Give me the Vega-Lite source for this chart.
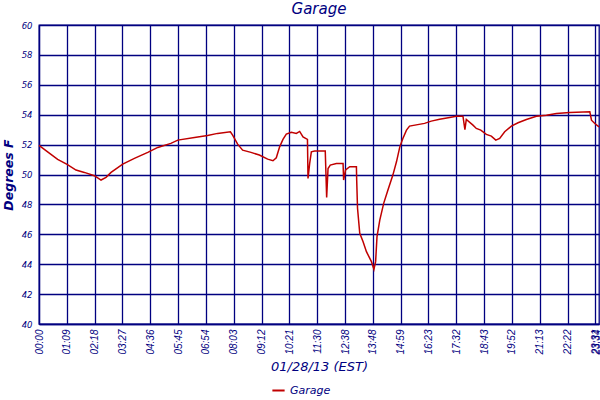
{
  "$schema": "https://vega.github.io/schema/vega-lite/v6.json",
  "width": 560,
  "height": 299,
  "autosize": {"type": "none"},
  "padding": {"left": 39, "top": 25, "right": 1, "bottom": 76},
  "background": "white",
  "title": {"text": "Garage", "font": "DejaVu Sans", "fontSize": 15, "fontStyle": "italic", "fontWeight": "normal", "color": "#000080", "anchor": "middle", "offset": 4},
  "config": {"view": {"stroke": "#000080", "strokeWidth": 1.3}},
  "data": {"values": [
    {"i": 0, "t": 51.95}, {"i": 3.1, "t": 51.52}, {"i": 6.7, "t": 51.01}, {"i": 10.1, "t": 50.68},
    {"i": 13.3, "t": 50.3}, {"i": 16.3, "t": 50.14}, {"i": 19.9, "t": 49.92}, {"i": 22.3, "t": 49.63},
    {"i": 24.1, "t": 49.81}, {"i": 25.9, "t": 50.14}, {"i": 30.1, "t": 50.7}, {"i": 34.3, "t": 51.08},
    {"i": 39.1, "t": 51.48}, {"i": 42.7, "t": 51.81}, {"i": 47.4, "t": 52.08}, {"i": 49.9, "t": 52.3},
    {"i": 55.9, "t": 52.48}, {"i": 60.6, "t": 52.61}, {"i": 64.2, "t": 52.75}, {"i": 68.8, "t": 52.86},
    {"i": 69.6, "t": 52.63}, {"i": 71.4, "t": 52.03}, {"i": 73.2, "t": 51.63}, {"i": 76.2, "t": 51.48},
    {"i": 79.2, "t": 51.3}, {"i": 82.2, "t": 51.03}, {"i": 84.1, "t": 50.92}, {"i": 85.3, "t": 51.12},
    {"i": 86.5, "t": 51.85}, {"i": 87.7, "t": 52.35}, {"i": 88.9, "t": 52.7}, {"i": 90.7, "t": 52.83},
    {"i": 92.5, "t": 52.75}, {"i": 93.7, "t": 52.88}, {"i": 94.9, "t": 52.52}, {"i": 96.5, "t": 52.35},
    {"i": 96.7, "t": 49.74}, {"i": 97.3, "t": 50.74}, {"i": 97.9, "t": 51.52}, {"i": 99.1, "t": 51.57},
    {"i": 102.9, "t": 51.57}, {"i": 103.4, "t": 48.47}, {"i": 103.9, "t": 50.4}, {"i": 104.7, "t": 50.63},
    {"i": 106.9, "t": 50.74}, {"i": 109.3, "t": 50.74}, {"i": 109.5, "t": 49.63}, {"i": 110.2, "t": 50.3},
    {"i": 111.7, "t": 50.52}, {"i": 114.1, "t": 50.52}, {"i": 114.2, "t": 49.63}, {"i": 114.5, "t": 47.74},
    {"i": 115.3, "t": 46.07}, {"i": 116.5, "t": 45.5}, {"i": 117.7, "t": 44.84}, {"i": 119.5, "t": 44.17},
    {"i": 120.4, "t": 43.66}, {"i": 121.0, "t": 44.17}, {"i": 121.5, "t": 45.84}, {"i": 122.5, "t": 46.95},
    {"i": 123.9, "t": 48.07}, {"i": 125.4, "t": 48.95}, {"i": 127.2, "t": 49.96}, {"i": 128.5, "t": 50.85},
    {"i": 129.7, "t": 51.85}, {"i": 130.8, "t": 52.41}, {"i": 132.1, "t": 52.97}, {"i": 133.2, "t": 53.24},
    {"i": 138.6, "t": 53.42}, {"i": 141.0, "t": 53.57}, {"i": 144.0, "t": 53.7}, {"i": 147.6, "t": 53.82},
    {"i": 150.0, "t": 53.9}, {"i": 152.4, "t": 53.9}, {"i": 153.1, "t": 53.0}, {"i": 153.6, "t": 53.68},
    {"i": 156.0, "t": 53.3}, {"i": 157.2, "t": 53.08}, {"i": 158.8, "t": 52.97}, {"i": 160.8, "t": 52.68},
    {"i": 162.6, "t": 52.57}, {"i": 164.2, "t": 52.3}, {"i": 165.6, "t": 52.41}, {"i": 167.4, "t": 52.86},
    {"i": 169.8, "t": 53.24}, {"i": 172.2, "t": 53.46}, {"i": 175.2, "t": 53.68}, {"i": 178.8, "t": 53.9},
    {"i": 182.4, "t": 53.97}, {"i": 186.0, "t": 54.08}, {"i": 190.8, "t": 54.15}, {"i": 198.0, "t": 54.19},
    {"i": 198.6, "t": 53.63}, {"i": 199.8, "t": 53.41}, {"i": 201.3, "t": 53.19}
  ]},
  "mark": {"type": "line", "strokeWidth": 1.5, "interpolate": "linear"},
  "encoding": {
    "x": {
      "field": "i", "type": "quantitative",
      "scale": {"domain": [0, 201.3], "nice": false, "zero": false},
      "axis": {
        "values": [0, 10, 20, 30, 40, 50, 60, 70, 80, 90, 100, 110, 120, 130, 140, 150, 160, 170, 180, 190, 200, 200.4],
        "labelExpr": "datum.value > 200.2 ? '23:34' : ['00:00','01:09','02:18','03:27','04:36','05:45','06:54','08:03','09:12','10:21','11:30','12:38','13:48','14:59','16:23','17:32','18:43','19:52','21:13','22:22','23:31'][round(datum.value / 10)]",
        "labelAngle": 270, "labelFont": "Liberation Sans", "labelFontStyle": "italic", "labelFontSize": 10,
        "labelColor": "#000080", "ticks": false, "labelPadding": 5,
        "labelOverlap": false, "labelFlush": false, "labelBound": false,
        "grid": true,
        "gridColor": {"condition": {"test": "datum.value > 200.2", "value": "transparent"}, "value": "#000080"},
        "gridWidth": 1.3, "gridOpacity": 1,
        "domainColor": "#000080", "domainWidth": 1.3,
        "title": "01/28/13 (EST)", "titleFont": "DejaVu Sans", "titleFontStyle": "italic", "titleFontWeight": "normal",
        "titleFontSize": 13, "titleColor": "#000080", "titlePadding": 6
      }
    },
    "y": {
      "field": "t", "type": "quantitative",
      "scale": {"domain": [40, 60], "nice": false, "zero": false},
      "axis": {
        "values": [40, 42, 44, 46, 48, 50, 52, 54, 56, 58, 60],
        "labelFont": "DejaVu Sans", "labelFontStyle": "italic", "labelFontSize": 8.5, "labelColor": "#000080",
        "ticks": false, "labelPadding": 7, "labelOverlap": false, "labelFlush": false,
        "grid": true, "gridColor": "#000080", "gridWidth": 1.3, "gridOpacity": 1,
        "domainColor": "#000080", "domainWidth": 1.3,
        "title": "Degrees F", "titleFont": "DejaVu Sans", "titleFontStyle": "italic", "titleFontWeight": "bold",
        "titleFontSize": 12.5, "titleColor": "#000080", "titlePadding": 6
      }
    },
    "color": {
      "datum": "Garage", "type": "nominal",
      "scale": {"range": ["#c00000"]},
      "legend": {
        "orient": "none", "legendX": 232, "legendY": 358, "title": null,
        "symbolType": "stroke", "symbolSize": 150, "symbolStrokeWidth": 2,
        "labelFont": "DejaVu Sans", "labelFontStyle": "italic", "labelFontSize": 11, "labelColor": "#000080"
      }
    }
  }
}
